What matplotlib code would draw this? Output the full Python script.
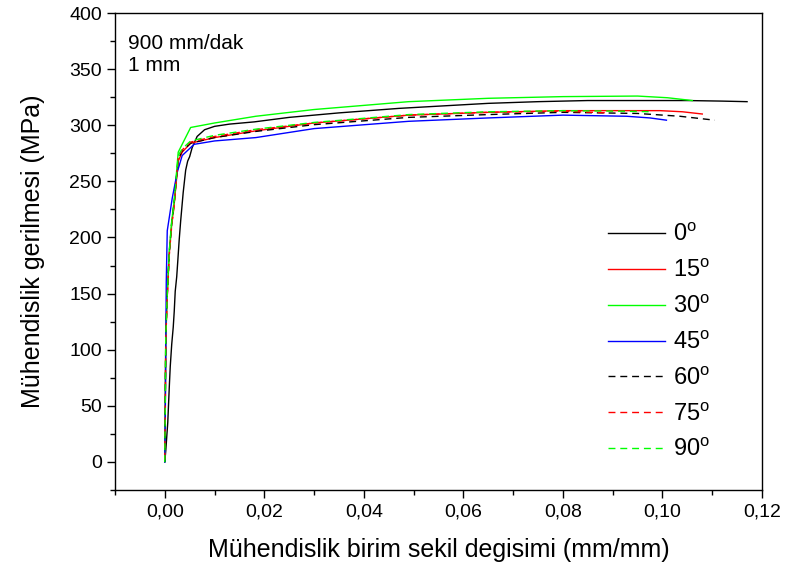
import matplotlib
matplotlib.use("Agg")
import matplotlib.pyplot as plt
from matplotlib.ticker import MultipleLocator, FuncFormatter

plt.rcParams['font.family'] = ['Liberation Sans', 'DejaVu Sans']
plt.rcParams['mathtext.fontset'] = 'custom'
plt.rcParams['mathtext.rm'] = 'Liberation Sans'

# 0 deg (black, solid)
eps_0 = [0, 0.0002, 0.0006, 0.0009, 0.0011, 0.0014, 0.0017, 0.0019, 0.0021, 0.0024, 0.0026,
         0.0029, 0.0032, 0.0037, 0.0042, 0.0046, 0.0050, 0.0055, 0.0065, 0.0080, 0.0100,
         0.0130, 0.018, 0.025, 0.035, 0.047, 0.055, 0.065, 0.075, 0.085, 0.095, 0.105, 0.112, 0.117]
sig_0 = [0, 10, 35, 66, 85, 105, 120, 134, 152, 165, 178,
         198, 215, 240, 260, 268, 272, 280, 290, 296, 299,
         301, 303, 307, 311, 315, 317, 319.5, 321, 322, 322, 322, 321.5, 321]

# 15 deg (red, solid)
eps_15 = [0, 0.0001, 0.0002, 0.0005, 0.0009, 0.0014, 0.0019, 0.0027, 0.0035, 0.0052, 0.010,
          0.0183, 0.030, 0.049, 0.065, 0.080, 0.0995, 0.104, 0.108]
sig_15 = [3, 50, 110, 148, 185, 212, 230, 268, 276, 284, 289,
          295, 302, 309, 311.5, 313, 313, 312, 310]

# 30 deg (green, solid)
eps_30 = [0, 0.0001, 0.0002, 0.0005, 0.0009, 0.0014, 0.0019, 0.0027, 0.0052, 0.010,
          0.0183, 0.030, 0.049, 0.065, 0.080, 0.095, 0.101, 0.106]
sig_30 = [0, 50, 114, 150, 188, 215, 233, 276, 298, 302,
          308, 314, 321, 324, 325.5, 326, 324.5, 322]

# 45 deg (blue, solid)
eps_45 = [0, 0.0001, 0.0002, 0.0003, 0.0005, 0.0015, 0.0025, 0.0035, 0.0059, 0.010,
          0.0183, 0.030, 0.049, 0.065, 0.080, 0.0928, 0.0975, 0.1008]
sig_45 = [0, 40, 100, 160, 206, 235, 258, 273, 283, 286,
          289, 297, 303.5, 306.5, 309, 308, 306.5, 304.5]

# 60 deg (black, dashed)
eps_60 = [0, 0.0001, 0.0002, 0.0005, 0.0009, 0.0014, 0.0019, 0.0027, 0.0035, 0.0052, 0.010,
          0.0183, 0.030, 0.049, 0.065, 0.080, 0.095, 0.1035, 0.1105]
sig_60 = [0, 52, 112, 150, 186, 213, 231, 270, 277, 284, 289,
          294.5, 300.5, 307, 309.5, 311.5, 310.5, 308, 304.5]

# 75 deg (red, dashed)
eps_75 = [0, 0.0001, 0.0002, 0.0005, 0.0009, 0.0014, 0.0019, 0.0027, 0.0035, 0.0052, 0.010,
          0.0183, 0.030, 0.049, 0.065, 0.080, 0.089]
sig_75 = [2, 48, 108, 147, 184, 211, 229, 271, 278, 285, 290,
          296, 302, 309, 311.5, 312.5, 311]

# 90 deg (green, dashed)
eps_90 = [0, 0.0001, 0.0002, 0.0005, 0.0009, 0.0014, 0.0019, 0.0027, 0.0035, 0.0052, 0.010,
          0.0183, 0.030, 0.049, 0.065, 0.080, 0.092, 0.098]
sig_90 = [0, 51, 112, 149, 187, 214, 232, 273, 279, 286, 291,
          296.5, 302.5, 309.5, 312, 313, 312.5, 312]

series = [
    (eps_0, sig_0, 'black', '-', '0'),
    (eps_15, sig_15, '#ff0000', '-', '15'),
    (eps_30, sig_30, '#00ff00', '-', '30'),
    (eps_45, sig_45, '#0000ff', '-', '45'),
    (eps_60, sig_60, 'black', '--', '60'),
    (eps_75, sig_75, '#ff0000', '--', '75'),
    (eps_90, sig_90, '#00ff00', '--', '90'),
]

fig = plt.figure(figsize=(7.87, 5.74), dpi=100)
ax = fig.add_axes([115/787, 1-490/574, (762-115)/787, (490-13)/574])

for x, y, c, ls, lab in series:
    line, = ax.plot(x, y, color=c, lw=1.0, label=lab + r'$^{\mathrm{o}}$')
    if ls == '--':
        line.set_dashes((5, 3.5))

ax.set_xlim(-0.01, 0.12)
ax.set_ylim(-25, 400)
ax.xaxis.set_major_locator(MultipleLocator(0.02))
ax.xaxis.set_minor_locator(MultipleLocator(0.01))
ax.yaxis.set_major_locator(MultipleLocator(50))
ax.yaxis.set_minor_locator(MultipleLocator(25))
ax.xaxis.set_major_formatter(FuncFormatter(lambda v, p: f"{v:.2f}".replace('.', ',')))
ax.tick_params(which='both', direction='out', top=False, right=False, labelsize=14)
ax.tick_params(which='major', length=5.5, width=1, pad=4)
ax.tick_params(which='minor', length=3.5, width=1)
for s in ax.spines.values():
    s.set_linewidth(1.0)

ax.set_xlabel('Mühendislik birim sekil degisimi (mm/mm)', fontsize=18, labelpad=13)
ax.set_ylabel('Mühendislik gerilmesi (MPa)', fontsize=18, labelpad=17)

ax.text(0.02, 0.955, '900 mm/dak\n1 mm', transform=ax.transAxes, fontsize=15,
        va='top', ha='left', linespacing=1.2)

ax.legend(loc='upper left', bbox_to_anchor=(0.748, 0.579), frameon=False, fontsize=17,
          handlelength=2.4, handletextpad=0.34, labelspacing=0.55, borderaxespad=0)

plt.savefig('out.png', dpi=100)
